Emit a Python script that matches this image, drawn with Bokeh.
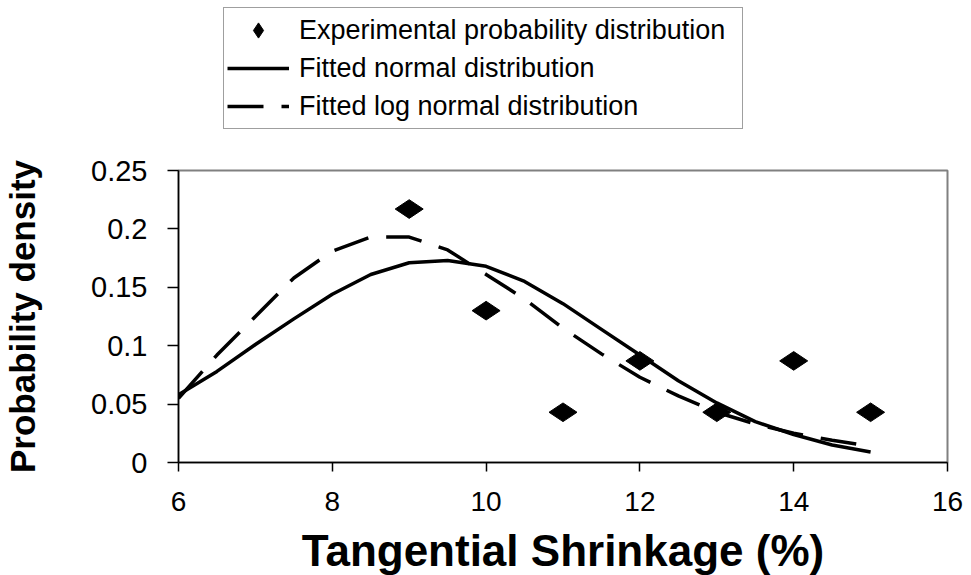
from bokeh.plotting import figure
from bokeh.models import Legend, LegendItem, Range1d, FixedTicker
from bokeh.layouts import column
from bokeh.embed import file_html
from bokeh.resources import INLINE
import math

# Experimental probability distribution (points)
exp_x = [9, 10, 11, 12, 13, 14, 15]
exp_y = [0.217, 0.130, 0.043, 0.087, 0.043, 0.087, 0.043]

# Fitted curves
fit_x = [6, 6.5, 7, 7.5, 8, 8.5, 9, 9.5, 10, 10.5, 11, 11.5, 12, 12.5, 13, 13.5, 14, 14.5, 15]
normal_y = [0.058, 0.078, 0.101, 0.123, 0.144, 0.161, 0.171, 0.173, 0.168, 0.155, 0.136,
            0.114, 0.092, 0.070, 0.051, 0.035, 0.024, 0.015, 0.009]
lognormal_y = [0.055, 0.092, 0.125, 0.158, 0.181, 0.193, 0.193, 0.182, 0.161, 0.140, 0.115,
               0.093, 0.073, 0.057, 0.043, 0.033, 0.025, 0.019, 0.014]

x_ticks = [6, 8, 10, 12, 14, 16]
y_ticks = [0, 0.05, 0.1, 0.15, 0.2, 0.25]
y_tick_labels = ["0", "0.05", "0.1", "0.15", "0.2", "0.25"]

series_labels = ["Experimental probability distribution",
                 "Fitted normal distribution",
                 "Fitted log normal distribution"]

FONT = "Liberation Sans"
DASH = "36 18"


def add_series(fig, visible=True):
    r_pts = fig.scatter(exp_x, exp_y, marker="diamond", size=28, angle=math.pi / 2,
                        fill_color="black", line_color="black", visible=visible)
    r_norm = fig.line(fit_x, normal_y, line_color="black", line_width=3.5,
                      line_join="round", visible=visible)
    r_logn = fig.line(fit_x, lognormal_y, line_color="black", line_width=3.5,
                      line_dash=DASH, visible=visible)
    return [r_pts, r_norm, r_logn]


# ---------- main chart ----------
p = figure(frame_width=769, frame_height=292,
           min_border_left=178, min_border_right=24, min_border_top=20, min_border_bottom=113,
           x_range=Range1d(x_ticks[0], x_ticks[-1]), y_range=Range1d(y_ticks[0], y_ticks[-1]),
           output_backend="svg", toolbar_location=None,
           background_fill_color="white", border_fill_color="white")

p.xgrid.visible = False
p.ygrid.visible = False
p.outline_line_color = "#808080"
p.outline_line_width = 2

for ax in (p.xaxis[0], p.yaxis[0]):
    ax.axis_line_color = "black"
    ax.axis_line_width = 1.5
    ax.major_tick_line_color = "black"
    ax.major_tick_line_width = 1.5
    ax.major_tick_in = 0
    ax.minor_tick_line_color = None
    ax.major_label_text_font = FONT
    ax.major_label_text_color = "black"
    ax.axis_label_text_font = FONT
    ax.axis_label_text_font_style = "bold"
    ax.axis_label_text_color = "black"
    ax.major_label_standoff = 20

p.xaxis.ticker = FixedTicker(ticks=x_ticks)
p.yaxis.ticker = FixedTicker(ticks=y_ticks)
p.yaxis.major_label_overrides = {t: l for t, l in zip(y_ticks, y_tick_labels)}
p.xaxis.major_tick_out = 9
p.yaxis.major_tick_out = 11
p.xaxis.major_label_text_font_size = "28px"
p.yaxis.major_label_text_font_size = "29px"

p.xaxis.axis_label = "Tangential Shrinkage (%)"
p.xaxis.axis_label_text_font_size = "44px"
p.xaxis.axis_label_standoff = 12
p.yaxis.axis_label = "Probability density"
p.yaxis.axis_label_text_font_size = "35px"
p.yaxis.axis_label_standoff = 46

add_series(p)

# ---------- legend strip above the chart ----------
top = figure(frame_width=971, frame_height=150,
             min_border_left=0, min_border_right=0, min_border_top=0, min_border_bottom=0,
             x_range=Range1d(x_ticks[0], x_ticks[-1]), y_range=Range1d(y_ticks[0], y_ticks[-1]),
             x_axis_location=None, y_axis_location=None,
             output_backend="svg", toolbar_location=None,
             background_fill_color="white", border_fill_color="white")
top.xgrid.visible = False
top.ygrid.visible = False
top.outline_line_color = None
legend_renderers = add_series(top, visible=False)

legend = Legend(items=[LegendItem(label=lab, renderers=[r])
                       for lab, r in zip(series_labels, legend_renderers)],
                location=(223, 21))
legend.label_text_font = FONT
legend.label_text_font_size = "27px"
legend.label_text_color = "black"
legend.label_height = 38
legend.glyph_height = 38
legend.glyph_width = 62
legend.label_standoff = 10
legend.label_width = 440
legend.spacing = 0
legend.padding = 3
legend.margin = 0
legend.border_line_color = "#404040"
legend.border_line_width = 1.5
legend.background_fill_color = "white"
legend.background_fill_alpha = 1
top.add_layout(legend, "center")

layout = column(top, p, spacing=0)
open("out.html", "w").write(file_html(layout, INLINE))
